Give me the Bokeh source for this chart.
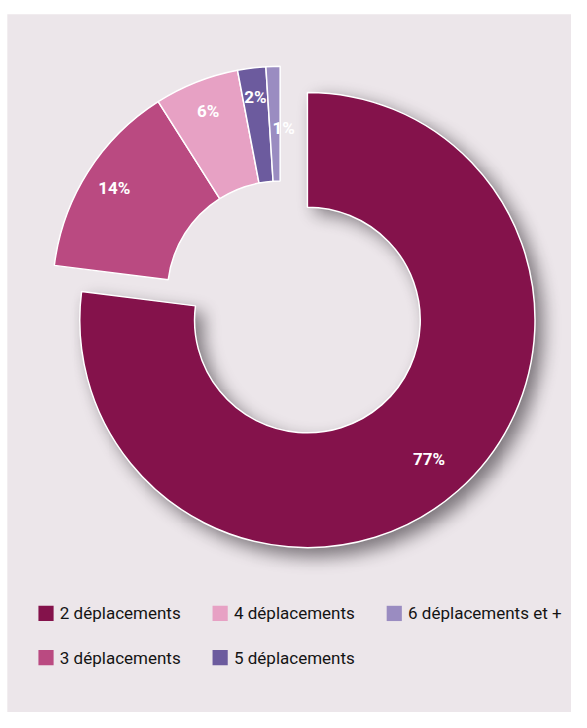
import numpy as np
from bokeh.plotting import figure
from bokeh.models import Range1d, ColumnDataSource
from bokeh.core.properties import value
from bokeh.embed import file_html
from bokeh.resources import INLINE

# ---- data ----
categories = ["2 déplacements", "3 déplacements", "4 déplacements", "5 déplacements", "6 déplacements et +"]
shares = [77, 14, 6, 2, 1]
pct_labels = ["77%", "14%", "6%", "2%", "1%"]
colors = ["#84124B", "#BA4A81", "#E7A1C4", "#6C5B9E", "#9A8CC1"]

# canvas in "reference pixel" units (y up)
RW, RH = 587, 728
W, H = 571, 712
BG = "#ECE6EA"

p = figure(width=W, height=H, output_backend="svg", toolbar_location=None,
           x_range=Range1d(0, RW), y_range=Range1d(0, RH), min_border=0)
p.axis.visible = False
p.grid.visible = False
p.outline_line_color = None
p.background_fill_color = "white"
p.border_fill_color = "white"

# panel
p.quad(left=[7], right=[RW + 2], bottom=[-2], top=[RH - 14], fill_color=BG, line_color=None)

# geometry
cx, cy = 315.5, RH - 326.7
R_out, R_in = 234.0, 116.0
off_x, off_y = -28.0, 26.7   # the pulled-out group of small slices

vals = np.array(shares, dtype=float)
frac = vals / vals.sum()
cum_end = np.cumsum(frac)
cum_start = cum_end - frac
start = np.pi / 2 - 2 * np.pi * cum_end
end = np.pi / 2 - 2 * np.pi * cum_start
mid = (start + end) / 2
main_end_deg = 360.0 * cum_end[0]

xs = np.array([cx] + [cx + off_x] * (len(vals) - 1))
ys = np.array([cy] + [cy + off_y] * (len(vals) - 1))

# ---- soft drop shadow of the main slice (raster, blurred) ----
x0, x1 = 20, RW
y0, y1 = 80, RH - 40
gx = np.arange(x0, x1) + 0.5
gy = np.arange(y0, y1) + 0.5
X, Y = np.meshgrid(gx, gy)
sdx, sdy = 8.0, -8.0
dx_, dy_ = X - (cx + sdx), Y - (cy + sdy)
rr = np.hypot(dx_, dy_)
th = np.degrees(np.arctan2(dx_, dy_)) % 360.0
mask = ((rr >= R_in) & (rr <= R_out) & (th <= main_end_deg)).astype(float)


def box_blur(a, w, axis):
    pad = w // 2
    a = np.pad(a, [(pad, pad) if i == axis else (0, 0) for i in range(2)])
    c = np.cumsum(a, axis=axis)
    c = np.insert(c, 0, 0, axis=axis)
    n = a.shape[axis] - 2 * pad
    if axis == 0:
        return (c[w:w + n, :] - c[0:n, :]) / w
    return (c[:, w:w + n] - c[:, 0:n]) / w


for _ in range(3):
    mask = box_blur(mask, 17, 0)
    mask = box_blur(mask, 17, 1)

alpha = np.clip(mask * 0.6 * 255, 0, 255).astype(np.uint8)
img = np.zeros(alpha.shape + (4,), dtype=np.uint8)
img[..., 0] = 45
img[..., 1] = 38
img[..., 2] = 45
img[..., 3] = alpha
img32 = img.view(np.uint32).reshape(alpha.shape)
p.image_rgba(image=[img32], x=x0, y=y0, dw=x1 - x0, dh=y1 - y0)

# ---- slices ----
src = ColumnDataSource(dict(x=xs, y=ys, start=start, end=end, color=colors, cat=categories))
p.annular_wedge(x="x", y="y", inner_radius=R_in, outer_radius=R_out, start_angle="start",
                end_angle="end", fill_color="color", line_color="white", line_width=1.5,
                source=src)

# percentage labels
lab_r = np.array([189.0, 202.0, 201.0, 203.0, 170.0])
lx = xs + lab_r * np.cos(mid)
ly = ys + lab_r * np.sin(mid)
lx[4] = xs[4] + 3.5   # "1%" sits across the thin slice's edge
p.text(x=lx, y=ly, text=pct_labels, text_color="white", text_font=value("Roboto"),
       text_font_style="bold", text_font_size="17px", text_align="center",
       text_baseline="middle")

# legend (column-major, 2 rows)
col_x = [39.0, 218.0, 397.0]
row_y = [RH - 626.7, RH - 672.0]
idx = np.arange(len(categories))
leg_x = np.array([col_x[i // 2] for i in idx])
leg_y = np.array([row_y[i % 2] for i in idx])
p.rect(x=leg_x + 7.8, y=leg_y, width=15.6, height=15.6, fill_color=colors, line_color=None)
p.text(x=leg_x + 22, y=leg_y, text=categories, text_color="#141414",
       text_font=value("Roboto"), text_font_size="17px", text_align="left",
       text_baseline="middle")

open("out.html", "w").write(file_html(p, INLINE))
